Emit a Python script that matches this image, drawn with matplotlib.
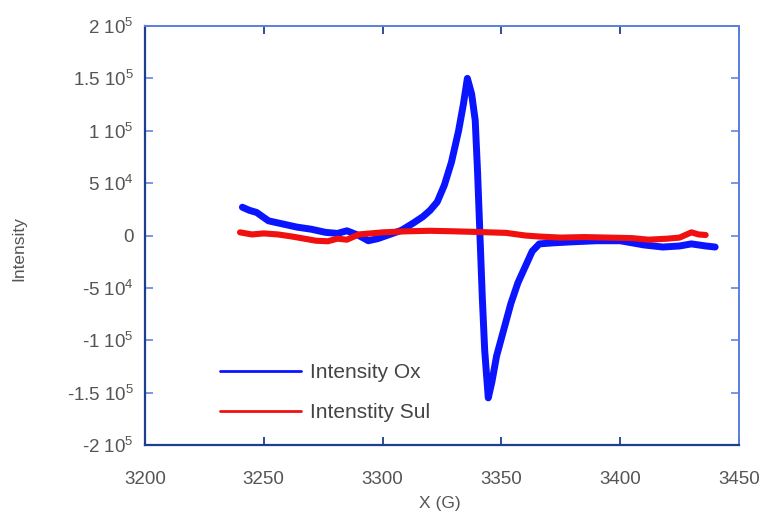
import matplotlib
matplotlib.use("Agg")
import matplotlib.pyplot as plt

# field (G) and intensity
ox_x = [3241, 3244, 3247, 3252, 3258, 3264, 3270, 3276, 3281, 3285, 3290, 3294,
        3298, 3303, 3308, 3313, 3317, 3320, 3323, 3326, 3329, 3332, 3334, 3335.7,
        3337.5, 3339, 3340, 3341, 3342, 3343, 3344.5, 3346, 3348, 3351, 3354,
        3357, 3360, 3363, 3366, 3372, 3380, 3390, 3400, 3410, 3418, 3425, 3430,
        3436, 3440]
ox_y = [27000, 24000, 22000, 14000, 11000, 8000, 6000, 3000, 2000, 4500, 0, -5000,
        -3000, 1000, 5000, 12000, 18000, 24000, 32000, 48000, 70000, 100000, 125000,
        150000, 135000, 110000, 60000, 0, -60000, -110000, -155000, -140000,
        -115000, -90000, -65000, -45000, -30000, -15000, -8000, -7000, -6000,
        -5000, -5000, -9000, -11000, -10000, -8000, -10000, -11000]

sul_x = [3240, 3245, 3250, 3256, 3262, 3267, 3272, 3277, 3281, 3285, 3290, 3300,
         3310, 3320, 3330, 3338, 3345, 3352, 3360, 3366, 3375, 3385, 3395, 3405,
         3412, 3420, 3425, 3430, 3433, 3436]
sul_y = [3000, 1000, 2000, 1000, -1000, -3000, -5000, -5500, -3000, -4000, 1000,
         3000, 4000, 4500, 4000, 3500, 3000, 2500, 0, -1000, -2000, -1500, -2000,
         -2500, -4000, -3000, -2000, 3000, 1000, 500]

x_ticks = [3200, 3250, 3300, 3350, 3400, 3450]
y_ticks = [-200000, -150000, -100000, -50000, 0, 50000, 100000, 150000, 200000]
y_tick_labels = [r'-2 10$^5$', r'-1.5 10$^5$', r'-1 10$^5$', r'-5 10$^4$', '0',
                 r'5 10$^4$', r'1 10$^5$', r'1.5 10$^5$', r'2 10$^5$']

plt.rcParams['font.family'] = ['Liberation Sans', 'DejaVu Sans']
plt.rcParams['mathtext.default'] = 'regular'

text_col = '#555555'

fig = plt.figure(figsize=(7.61, 5.16), dpi=100)
ax = fig.add_axes([0.1905, 0.1376, 0.7805, 0.812])

ax.plot(ox_x, ox_y, color='#0a14ff', lw=5, solid_joinstyle='round',
        solid_capstyle='round', label='Intensity Ox')
ax.plot(sul_x, sul_y, color='#f01010', lw=4.4, solid_joinstyle='round',
        solid_capstyle='round', label='Intenstity Sul')

ax.set_xlim(3200, 3450)
ax.set_ylim(-200000, 200000)
ax.set_xticks(x_ticks)
ax.set_yticks(y_ticks)
ax.set_yticklabels(y_tick_labels)

ax.tick_params(direction='in', length=6, width=1.3, color='#6f8fe0',
               labelsize=13.5, labelcolor=text_col, top=True, right=True)
ax.tick_params(axis='x', pad=19, color='#1c3f8f')
ax.tick_params(axis='y', pad=8)

for side in ['left', 'bottom']:
    ax.spines[side].set_color('#1c3f8f')
    ax.spines[side].set_linewidth(1.6)
for side in ['top', 'right']:
    ax.spines[side].set_color('#5b7fe0')
    ax.spines[side].set_linewidth(1.4)

ax.set_xlabel('X (G)', fontsize=12.5, color=text_col)
ax.set_ylabel('Intensity', fontsize=12.5, color=text_col)
ax.xaxis.set_label_coords(0.497, -0.122)
ax.yaxis.set_label_coords(-0.199, 0.47)

leg = ax.legend(loc='upper left', bbox_to_anchor=(0.126, 0.195), frameon=False,
                fontsize=15, handlelength=3.9, handletextpad=0.45,
                labelspacing=1.0, borderpad=0, borderaxespad=0)
for line in leg.get_lines():
    line.set_linewidth(2)
for t in leg.get_texts():
    t.set_color('#444444')

fig.savefig('out.png', dpi=100)
